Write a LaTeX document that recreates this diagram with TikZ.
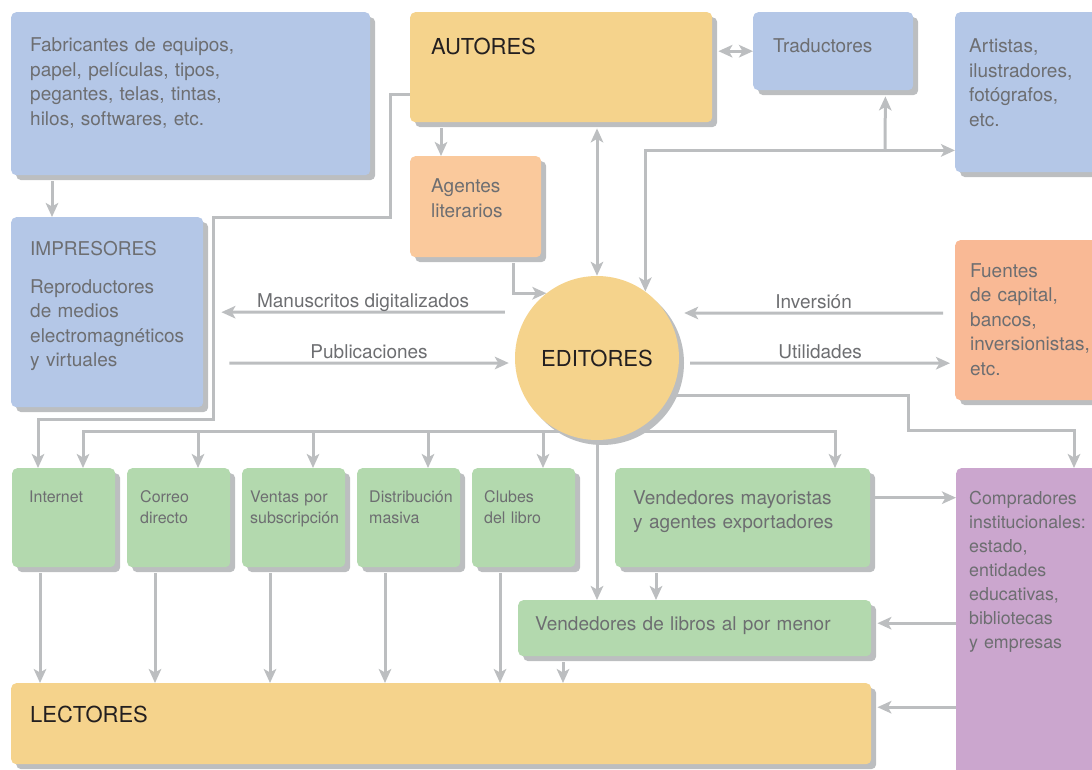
\documentclass[tikz,border=0pt]{standalone}
\usepackage{fontspec}
\setmainfont{TeX Gyre Heros}
\usepackage{tikz}
\usetikzlibrary{arrows.meta, shadows, backgrounds, positioning}
\definecolor{azul}{HTML}{B4C7E7}
\definecolor{amarillo}{HTML}{F5D38C}
\definecolor{durazno}{HTML}{FAC99C}
\definecolor{salmon}{HTML}{F9B995}
\definecolor{verde}{HTML}{B3D9AE}
\definecolor{lila}{HTML}{CBA6CE}
\definecolor{gris}{HTML}{BCBEC0}
\definecolor{texto}{HTML}{6D6E71}
\definecolor{negro}{HTML}{231F20}
\tikzset{>={Stealth[length=14pt,width=12.5pt,inset=3.5pt]}}

\begin{document}
\begin{tikzpicture}[x=1pt, y=-1pt,
  sombra/.style={drop shadow={shadow xshift=5pt, shadow yshift=-5pt, fill=gris, opacity=1}},
  caja/.style={rectangle, rounded corners=5pt, anchor=north west, inner sep=0pt, sombra},
  txt/.style={anchor=base west, inner sep=0pt, text width=300pt, align=left, text=texto,
    font=\fontsize{19}{24.5}\selectfont},
  chico/.style={txt, text width=120pt, font=\fontsize{16}{21}\selectfont},
  titulo/.style={txt, text=negro, font=\fontsize{22}{26}\selectfont},
  flecha/.style={draw=gris, line width=3pt, ->},
  doble/.style={flecha, <->},
  etiq/.style={midway, anchor=base, yshift=5pt, inner sep=0pt, text=texto, font=\fontsize{19}{24}\selectfont}]
  \useasboundingbox (0,0) rectangle (1092,770);
  \clip (0,0) rectangle (1092,770);

  % cajas
  \node[caja, fill=azul, minimum width=359pt, minimum height=163pt] (fab) at (11,12) {};
  \node[caja, fill=azul, minimum width=192pt, minimum height=190pt] (imp) at (11,217) {};
  \node[caja, fill=amarillo, minimum width=302pt, minimum height=110pt] (aut) at (410,12) {};
  \node[caja, fill=azul, minimum width=160pt, minimum height=78pt] (trad) at (753,12) {};
  \node[caja, fill=azul, minimum width=150pt, minimum height=160pt] (art) at (955,12) {};
  \node[caja, fill=durazno, minimum width=131pt, minimum height=101pt] (agt) at (410,156) {};
  \node[caja, fill=salmon, minimum width=150pt, minimum height=160pt] (fue) at (955,240) {};
  \node[circle, fill=amarillo, minimum size=164pt, inner sep=0pt, sombra, text=negro,
    font=\fontsize{22}{26}\selectfont] (ed) at (597,358) {EDITORES};
  \foreach \n/\x in {inet/12, correo/127, ventas/242, distr/357, clubes/472}
    \node[caja, fill=verde, minimum width=103pt, minimum height=99pt] (\n) at (\x,468) {};
  \node[caja, fill=verde, minimum width=255pt, minimum height=99pt] (may) at (615,468) {};
  \node[caja, fill=verde, minimum width=353pt, minimum height=56pt] (men) at (518,600) {};
  \node[caja, fill=lila, minimum width=150pt, minimum height=310pt] (comp) at (956,468) {};
  \node[caja, fill=amarillo, minimum width=860pt, minimum height=81pt] (lec) at (11,683) {};

  % textos
  \node[txt] (fab-t) at (30,52) {Fabricantes de equipos,\\papel, películas, tipos,\\pegantes, telas, tintas,\\hilos, softwares, etc.};
  \node[txt] (imp-t) at (30,255) {IMPRESORES\\[13.5pt]Reproductores\\de medios\\electromagnéticos\\y virtuales};
  \node[titulo] (aut-t) at (431,55) {AUTORES};
  \node[txt] (trad-t) at (773,53) {Traductores};
  \node[txt] (art-t) at (969,53) {Artistas,\\ilustradores,\\fotógrafos,\\etc.};
  \node[txt] (agt-t) at (431,193) {Agentes\\literarios};
  \node[txt] (fue-t) at (970,277) {Fuentes\\de capital,\\bancos,\\inversionistas,\\etc.};
  \node[chico] (inet-t) at (29,502) {Internet};
  \node[chico] (correo-t) at (140,502) {Correo\\directo};
  \node[chico] (ventas-t) at (250,502) {Ventas por\\subscripción};
  \node[chico] (distr-t) at (369,502) {Distribución\\masiva};
  \node[chico] (clubes-t) at (484,502) {Clubes\\del libro};
  \node[txt] (may-t) at (633,504) {Vendedores mayoristas\\y agentes exportadores};
  \node[txt] (men-t) at (535,630) {Vendedores de libros al por menor};
  \node[txt, font=\fontsize{17.8}{24}\selectfont] (comp-t) at (969,504) {Compradores\\institucionales:\\estado,\\entidades\\educativas,\\bibliotecas\\y empresas};
  \node[titulo] (lec-t) at (30,722) {LECTORES};
  \coordinate (ramal) at (885,150);

  % conexiones
  \begin{scope}[on background layer]
    \draw[flecha] ([shift={(41,6)}]fab.south west) -- ([xshift=41pt]imp.north west);
    \draw[flecha] ([yshift=-27pt]aut.west) -- ++(-20,0) -- ++(0,123) -- ++(-177,0) -- ++(0,202) -| ([xshift=26pt]inet.north west);
    \draw[flecha] ([shift={(31,6)}]aut.south west) -- ([xshift=31pt]agt.north west);
    \draw[doble] ([yshift=-6pt]aut.south -| ed.north) -- (ed.north);
    \draw[doble] ([xshift=6pt]aut.east |- trad.west) -- (trad.west);
    \draw[flecha] ([shift={(103,6)}]agt.south west) |- (ed.128);
    \draw[doble] (ed.54) |- ([yshift=22pt]art.south west);
    \draw[flecha] (ramal) -- ([shift={(-28,6)}]trad.south east);
    \draw[flecha] ([shift={(-10,-46)}]ed.west) -- ([xshift=18pt]imp.east) node[etiq] {Manuscritos digitalizados};
    \draw[flecha] ([shift={(26,51)}]imp.east) -- ([shift={(-6,5)}]ed.west) node[etiq] {Publicaciones};
    \draw[flecha] ([shift={(-12,-7)}]fue.west) -- ([shift={(5,-45)}]ed.east) node[etiq] {Inversión};
    \draw[flecha] ([shift={(11,5)}]ed.east) -- ([shift={(-5,43)}]fue.west) node[etiq] {Utilidades};
    \foreach \n in {inet, correo, ventas, distr, clubes}
      \draw[flecha] ([yshift=9pt]ed.south) -| ([xshift=71pt]\n.north west);
    \draw[flecha] ([yshift=9pt]ed.south) -| ([xshift=220pt]may.north west);
    \draw[flecha] (ed) -- (ed |- men.north);
    \draw[flecha] (ed.333) -- ++(238,0) -- ++(0,35) -| ([xshift=118pt]comp.north west);
    \foreach \n in {inet, correo, ventas, distr, clubes}
      \draw[flecha] ([shift={(28,6)}]\n.south west) -- ([xshift=28pt]\n.south west |- lec.north);
    \draw[flecha] ([shift={(41,6)}]may.south west) -- ([xshift=41pt]may.south west |- men.north);
    \draw[flecha] ([shift={(5,-20)}]may.east) -- ([yshift=20pt]comp.west |- may.east);
    \draw[flecha] (comp.west) -- ([xshift=6pt]men.east |- comp.west);
    \draw[flecha] ([yshift=-84pt]comp.west) -- ([xshift=6pt,yshift=-84pt]lec.east |- comp.west);
    \draw[flecha] ([shift={(45,6)}]men.south west) -- ([xshift=45pt]men.south west |- lec.north);
  \end{scope}
\end{tikzpicture}
\end{document}
